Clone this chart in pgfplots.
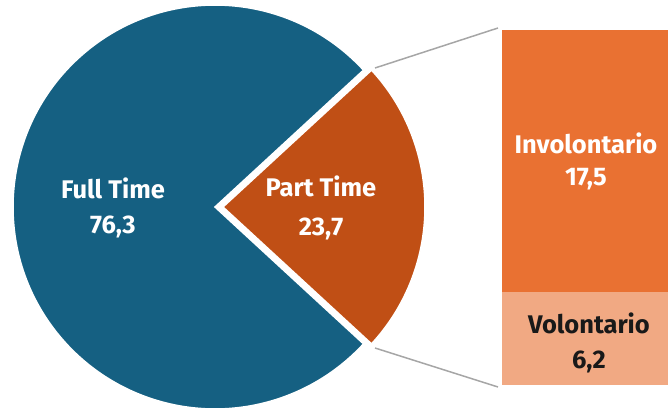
\documentclass[border=0pt]{standalone}
\usepackage{fontspec}
\setmainfont{Fira Sans}
\usepackage{pgfplots}
\pgfplotsset{compat=1.18}
\definecolor{FullBlue}{HTML}{156082}
\definecolor{PartRust}{HTML}{C04F15}
\definecolor{InvOrange}{HTML}{E97132}
\definecolor{VolPeach}{HTML}{F1A983}
\definecolor{LinkGray}{HTML}{A6A6A6}

% shares of the pie (percent)
\def\fulltime{76.3}
\def\parttime{23.7}
\pgfmathsetmacro\half{\parttime/100*180}

\tikzset{lbl/.style={font=\bfseries\fontsize{25.5bp}{30bp}\selectfont, anchor=base, inner sep=0pt}}

\begin{document}
\begin{tikzpicture}
\path[use as bounding box] (0,0) rectangle (670bp,410bp);

% bar that splits the part-time slice
\begin{axis}[
  at={(502bp,25bp)}, anchor=south west,
  scale only axis, width=166bp, height=355bp,
  xmin=-0.5, xmax=0.5, ymin=0, ymax=23.7,
  enlargelimits=false,
  hide axis, clip=false,
  ybar stacked, bar width=166bp
]
\addplot[fill=VolPeach, draw=none] coordinates {(0,6.2)};
\addplot[fill=InvOrange, draw=none] coordinates {(0,17.5)};
\draw[white, line width=3.5bp] (axis cs:-0.5,6.2) -- (axis cs:0.5,6.2);
\end{axis}

% pie, one unit = one bp
\begin{axis}[
  at={(0,0)}, anchor=south west,
  scale only axis, width=670bp, height=410bp,
  xmin=0, xmax=670, ymin=0, ymax=410,
  hide axis, clip=false
]
\fill[FullBlue, draw=white, line width=1.5bp] (axis cs:215,203) -- ++(\half:202bp)
  arc[start angle=\half, end angle=360-\half, radius=202bp] -- cycle;
\fill[PartRust, draw=white, line width=1.5bp] (axis cs:223,203) -- ++(-\half:202bp)
  arc[start angle=-\half, end angle=\half, radius=202bp] -- cycle;

\draw[LinkGray, line width=1.5bp] (axis cs:375,342) -- (axis cs:498,382);
\draw[LinkGray, line width=1.5bp] (axis cs:375,62) -- (axis cs:498,23);

\node[lbl, white] at (axis cs:113,212) {Full Time};
\node[lbl, white] at (axis cs:113,177) {76,3};
\node[lbl, white] at (axis cs:321,214) {Part Time};
\node[lbl, white] at (axis cs:321,175) {23,7};
\node[lbl, white] at (axis cs:586,257) {Involontario};
\node[lbl, white] at (axis cs:586,225) {17,5};
\node[lbl, black!90] at (axis cs:589,77) {Volontario};
\node[lbl, black!90] at (axis cs:589,42) {6,2};
\end{axis}
\end{tikzpicture}
\end{document}
